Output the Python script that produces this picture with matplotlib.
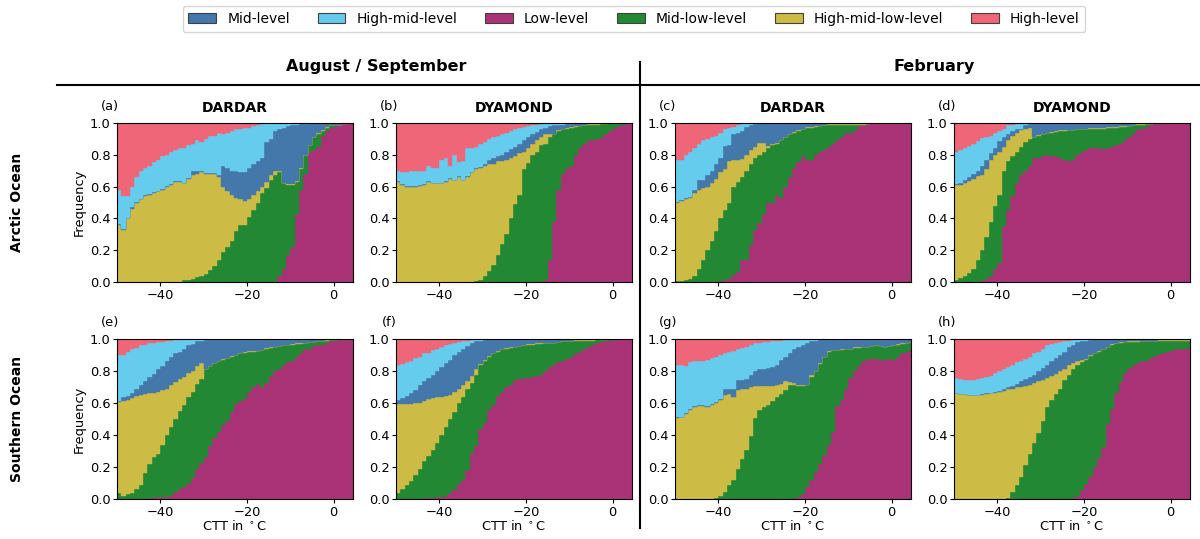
import numpy as np
import matplotlib
matplotlib.use("Agg")
import matplotlib.pyplot as plt
from matplotlib.patches import Patch
from matplotlib.lines import Line2D

# Cloud-top temperature bins (degC), 1 K wide
BIN_EDGES = np.arange(-50, 6)
N_BINS = len(BIN_EDGES) - 1

CLASSES = ["Low-level", "Mid-low-level", "High-mid-low-level",
           "Mid-level", "High-mid-level", "High-level"]
COLORS = {
    "Mid-level": "#4477AA",
    "High-mid-level": "#66CCEE",
    "Low-level": "#AA3377",
    "Mid-low-level": "#228833",
    "High-mid-low-level": "#CCBB44",
    "High-level": "#EE6677",
}
LEGEND_ORDER = ["Mid-level", "High-mid-level", "Low-level",
                "Mid-low-level", "High-mid-low-level", "High-level"]

# Cumulative frequency per CTT bin: upper edge of each stacked class
# (low, mid-low, high-mid-low, mid, high-mid); high-level fills up to 1.

# (a) Arctic, Aug/Sep, DARDAR
a_low = [0.0] * 37 + [0.04, 0.08, 0.17, 0.22, 0.43, 0.58, 0.68, 0.82, 0.83,
                      0.85, 0.92, 0.95, 0.97, 0.98, 0.99, 0.995, 1.0, 1.0]
a_midlow = [0.0] * 15 + [0.01, 0.015, 0.02, 0.03, 0.04, 0.05, 0.075, 0.10, 0.14, 0.19,
                         0.22, 0.26, 0.32, 0.36, 0.36, 0.41, 0.45, 0.50, 0.56, 0.59,
                         0.64, 0.67, 0.69, 0.62, 0.61, 0.61, 0.63, 0.71, 0.80, 0.86,
                         0.91, 0.93, 0.95, 0.97, 0.985, 0.99, 0.99, 0.995, 1.0, 1.0]
a_hml = [0.36, 0.33, 0.40, 0.46, 0.50, 0.52, 0.54, 0.55, 0.56, 0.57,
         0.58, 0.60, 0.61, 0.63, 0.63, 0.62, 0.65, 0.67, 0.68, 0.69,
         0.68, 0.68, 0.68, 0.66, 0.60, 0.57, 0.55, 0.53, 0.52, 0.51,
         0.52, 0.55, 0.57, 0.60, 0.63, 0.67, 0.70, 0.70, 0.625, 0.615,
         0.615, 0.635, 0.715, 0.80, 0.86, 0.91, 0.935, 0.955, 0.975, 0.99,
         0.99, 0.99, 0.997, 1.0, 1.0]
a_mid = [0.365, 0.335, 0.405, 0.47, 0.505, 0.525, 0.545, 0.555, 0.565, 0.575,
         0.585, 0.605, 0.615, 0.635, 0.635, 0.625, 0.655, 0.70, 0.70, 0.70,
         0.685, 0.685, 0.685, 0.67, 0.73, 0.72, 0.70, 0.70, 0.69, 0.69,
         0.72, 0.74, 0.76, 0.78, 0.88, 0.90, 0.95, 0.96, 0.97, 0.98,
         0.99, 0.99, 0.995, 0.995, 0.998, 1.0, 1.0, 1.0, 1.0, 1.0,
         1.0, 1.0, 1.0, 1.0, 1.0]
a_hm = [0.58, 0.54, 0.54, 0.60, 0.66, 0.70, 0.72, 0.73, 0.755, 0.77,
        0.79, 0.80, 0.82, 0.83, 0.84, 0.84, 0.86, 0.87, 0.89, 0.88,
        0.90, 0.92, 0.92, 0.94, 0.93, 0.94, 0.95, 0.96, 0.96, 0.97,
        0.97, 0.98, 0.99, 0.995] + [1.0] * 21

# (b) Arctic, Aug/Sep, DYAMOND
b_low = [0.0] * 34 + [0.015, 0.14, 0.38, 0.58, 0.68, 0.71, 0.73, 0.80, 0.84, 0.87,
                      0.89, 0.895, 0.90, 0.91, 0.93, 0.95, 0.97, 0.98, 0.99, 0.995, 1.0]
b_midlow = [0.0] * 18 + [0.005, 0.015, 0.04, 0.07, 0.11, 0.17, 0.24, 0.30, 0.40, 0.49,
                         0.55, 0.71, 0.75, 0.80, 0.82, 0.86, 0.87, 0.91, 0.93, 0.95,
                         0.96, 0.965, 0.97, 0.975, 0.98, 0.985, 0.99, 0.99, 0.99, 0.995,
                         0.995, 0.998, 1.0, 1.0, 1.0, 1.0, 1.0]
b_hml = [0.63, 0.61, 0.60, 0.60, 0.60, 0.605, 0.61, 0.63, 0.62, 0.62,
         0.62, 0.63, 0.65, 0.64, 0.66, 0.64, 0.66, 0.69, 0.71, 0.72,
         0.73, 0.74, 0.74, 0.76, 0.76, 0.77, 0.78, 0.79, 0.81, 0.82,
         0.84, 0.87, 0.89, 0.91, 0.93, 0.93, 0.933, 0.953, 0.963, 0.968,
         0.973, 0.978, 0.983, 0.988, 0.993, 0.993, 0.993, 0.997, 0.997, 0.999,
         1.0, 1.0, 1.0, 1.0, 1.0]
b_mid = [0.634, 0.614, 0.604, 0.604, 0.604, 0.609, 0.614, 0.634, 0.624, 0.624,
         0.624, 0.634, 0.654, 0.644, 0.664, 0.644, 0.664, 0.694, 0.714, 0.724,
         0.745, 0.77, 0.78, 0.79, 0.80, 0.82, 0.835, 0.85, 0.87, 0.89,
         0.91, 0.93, 0.945, 0.96, 0.97, 0.98, 0.985, 0.99, 0.99, 0.995,
         0.995, 0.997, 0.998, 0.999] + [1.0] * 11
b_hm = [0.70, 0.69, 0.69, 0.70, 0.70, 0.70, 0.70, 0.73, 0.72, 0.72,
        0.77, 0.78, 0.73, 0.80, 0.755, 0.76, 0.84, 0.84, 0.85, 0.87,
        0.88, 0.90, 0.91, 0.92, 0.93, 0.94, 0.95, 0.96, 0.97, 0.975,
        0.98, 0.985, 0.99, 0.995] + [1.0] * 21

# (c) Arctic, February, DARDAR
c_low = [0.0] * 10 + [0.005, 0.01, 0.02, 0.045, 0.06, 0.14, 0.14, 0.23, 0.33, 0.37,
                      0.43, 0.50, 0.50, 0.55, 0.53, 0.60, 0.66, 0.72, 0.755, 0.79,
                      0.77, 0.77, 0.80, 0.82, 0.83, 0.85, 0.87, 0.895, 0.91, 0.94,
                      0.94, 0.95, 0.98, 0.985, 0.995] + [1.0] * 10
c_midlow = [0.005, 0.005, 0.01, 0.02, 0.04, 0.08, 0.14, 0.20, 0.26, 0.32,
            0.40, 0.45, 0.50, 0.60, 0.63, 0.66, 0.70, 0.74, 0.78, 0.80,
            0.82, 0.84, 0.86, 0.87, 0.89, 0.91, 0.93, 0.94, 0.95, 0.96,
            0.97, 0.97, 0.975, 0.98, 0.985, 0.99, 0.99, 0.99, 0.99, 0.99,
            0.99, 0.99, 0.99, 0.99, 0.995] + [1.0] * 10
c_hml = [0.50, 0.51, 0.525, 0.53, 0.56, 0.58, 0.59, 0.60, 0.62, 0.65,
         0.69, 0.71, 0.76, 0.765, 0.765, 0.775, 0.80, 0.83, 0.85, 0.875,
         0.875, 0.855, 0.865, 0.875, 0.895, 0.915, 0.933, 0.943, 0.953, 0.963,
         0.973, 0.973, 0.978, 0.983, 0.988, 0.992, 0.992, 0.992, 0.992, 0.992,
         0.992, 0.992, 0.992, 0.992, 0.996] + [1.0] * 10
c_mid = [0.505, 0.515, 0.53, 0.535, 0.58, 0.64, 0.64, 0.67, 0.70, 0.745,
         0.78, 0.855, 0.86, 0.93, 0.935, 0.95, 0.975, 0.99, 0.995, 0.997,
         0.998] + [1.0] * 34
c_hm = [0.77, 0.77, 0.80, 0.82, 0.84, 0.865, 0.895, 0.90, 0.91, 0.92,
        0.94, 0.96, 0.97, 0.975, 0.985, 0.995] + [1.0] * 39

# (d) Arctic, February, DYAMOND
d_low = [0.0] * 5 + [0.003, 0.005, 0.02, 0.035, 0.08, 0.12, 0.35, 0.45, 0.54, 0.62,
                     0.67, 0.70, 0.73, 0.78, 0.78, 0.79, 0.80, 0.79, 0.79, 0.78,
                     0.77, 0.76, 0.77, 0.80, 0.82, 0.83, 0.84, 0.84, 0.84, 0.835,
                     0.84, 0.85, 0.86, 0.87, 0.89, 0.91, 0.94, 0.96, 0.965, 0.975,
                     0.985, 0.995] + [1.0] * 8
d_midlow = [0.015, 0.025, 0.04, 0.055, 0.08, 0.14, 0.20, 0.28, 0.38, 0.48,
            0.55, 0.70, 0.76, 0.79, 0.82, 0.85, 0.88, 0.90, 0.91, 0.92,
            0.93, 0.935, 0.94, 0.945, 0.95, 0.95, 0.955, 0.955, 0.96, 0.96,
            0.96, 0.965, 0.965, 0.965, 0.965, 0.97, 0.97, 0.97, 0.975, 0.975,
            0.98, 0.985, 0.99, 0.99, 0.995, 0.995] + [1.0] * 9
d_hml = [0.61, 0.61, 0.62, 0.635, 0.645, 0.665, 0.67, 0.71, 0.765, 0.80,
         0.82, 0.85, 0.895, 0.92, 0.94, 0.955, 0.96, 0.97, 0.913, 0.923,
         0.933, 0.938, 0.943, 0.948, 0.953, 0.953, 0.958, 0.958, 0.963, 0.963,
         0.963, 0.968, 0.968, 0.968, 0.968, 0.973, 0.973, 0.973, 0.978, 0.978,
         0.983, 0.988, 0.992, 0.992, 0.996, 0.996] + [1.0] * 9
d_mid = [0.615, 0.62, 0.64, 0.66, 0.68, 0.70, 0.73, 0.765, 0.81, 0.84,
         0.885, 0.91, 0.93, 0.95, 0.96, 0.965, 0.985, 0.995] + [1.0] * 37
d_hm = [0.815, 0.83, 0.84, 0.855, 0.87, 0.885, 0.905, 0.915, 0.92, 0.935,
        0.95, 0.965, 0.985, 0.99, 0.995] + [1.0] * 40

# (e) Southern Ocean, Aug/Sep, DARDAR
e_low = [0.0] * 7 + [0.005, 0.008, 0.01, 0.01, 0.012, 0.02, 0.045, 0.065, 0.075, 0.095,
                     0.13, 0.185, 0.225, 0.265, 0.33, 0.38, 0.42, 0.46, 0.49, 0.545,
                     0.595, 0.61, 0.625, 0.67, 0.70, 0.72, 0.70, 0.725, 0.77, 0.80,
                     0.81, 0.84, 0.855, 0.86, 0.89, 0.91, 0.935, 0.94, 0.955, 0.96,
                     0.965, 0.975, 0.985, 0.99, 0.995, 1.0, 0.995, 1.0]
e_midlow = [0.04, 0.02, 0.03, 0.04, 0.06, 0.09, 0.16, 0.22, 0.26, 0.28,
            0.34, 0.40, 0.45, 0.50, 0.55, 0.59, 0.64, 0.67, 0.72, 0.75,
            0.81, 0.83, 0.85, 0.86, 0.87, 0.88, 0.89, 0.90, 0.91, 0.915,
            0.92, 0.92, 0.925, 0.93, 0.94, 0.945, 0.95, 0.955, 0.96, 0.96,
            0.965, 0.97, 0.97, 0.975, 0.98, 0.98, 0.985, 0.985, 0.99, 0.995,
            0.995, 1.0, 1.0, 1.0, 1.0]
e_hml = [0.605, 0.61, 0.62, 0.63, 0.645, 0.65, 0.655, 0.66, 0.665, 0.67,
         0.68, 0.69, 0.71, 0.73, 0.75, 0.765, 0.785, 0.80, 0.83, 0.85,
         0.815, 0.833, 0.853, 0.863, 0.873, 0.883, 0.893, 0.903, 0.913, 0.918,
         0.923, 0.923, 0.928, 0.933, 0.943, 0.948, 0.953, 0.958, 0.963, 0.963,
         0.968, 0.973, 0.973, 0.978, 0.983, 0.983, 0.988, 0.988, 0.993, 0.997,
         0.997, 1.0, 1.0, 1.0, 1.0]
e_mid = [0.612, 0.64, 0.645, 0.66, 0.69, 0.715, 0.74, 0.765, 0.78, 0.81,
         0.83, 0.865, 0.885, 0.91, 0.92, 0.935, 0.96, 0.97, 0.985, 0.99,
         0.995] + [1.0] * 34
e_hm = [0.90, 0.90, 0.92, 0.935, 0.945, 0.96, 0.965, 0.975, 0.978, 0.98,
        0.982, 0.988, 0.99, 0.994, 0.995, 0.997] + [1.0] * 39

# (f) Southern Ocean, Aug/Sep, DYAMOND
f_low = [0.0] * 6 + [0.005, 0.008, 0.008, 0.01, 0.015, 0.02, 0.04, 0.055, 0.095, 0.12,
                     0.18, 0.285, 0.33, 0.435, 0.475, 0.555, 0.59, 0.645, 0.67, 0.70,
                     0.715, 0.745, 0.75, 0.755, 0.755, 0.765, 0.77, 0.775, 0.80, 0.825,
                     0.84, 0.855, 0.865, 0.875, 0.89, 0.91, 0.92, 0.935, 0.95, 0.965,
                     0.975, 0.98, 0.985, 0.99, 0.995, 1.0, 1.0, 1.0, 1.0]
f_midlow = [0.038, 0.065, 0.09, 0.115, 0.15, 0.19, 0.24, 0.27, 0.305, 0.35,
            0.40, 0.45, 0.50, 0.545, 0.60, 0.635, 0.685, 0.725, 0.775, 0.84,
            0.865, 0.89, 0.91, 0.92, 0.935, 0.94, 0.945, 0.95, 0.955, 0.96,
            0.965, 0.965, 0.97, 0.97, 0.975, 0.975, 0.975, 0.98, 0.985, 0.985,
            0.985, 0.99, 0.99, 0.99, 0.99, 0.99, 0.995, 0.995, 0.995, 0.998,
            1.0, 1.0, 1.0, 1.0, 1.0]
f_hml = [0.595, 0.595, 0.595, 0.595, 0.60, 0.60, 0.61, 0.625, 0.63, 0.635,
         0.64, 0.645, 0.65, 0.67, 0.685, 0.715, 0.74, 0.77, 0.81, 0.843,
         0.868, 0.893, 0.913, 0.923, 0.938, 0.943, 0.948, 0.953, 0.958, 0.963,
         0.968, 0.968, 0.973, 0.973, 0.978, 0.978, 0.978, 0.983, 0.988, 0.988,
         0.988, 0.993, 0.993, 0.993, 0.993, 0.993, 0.997, 0.997, 0.997, 1.0,
         1.0, 1.0, 1.0, 1.0, 1.0]
f_mid = [0.62, 0.63, 0.645, 0.66, 0.68, 0.715, 0.735, 0.755, 0.775, 0.80,
         0.825, 0.85, 0.87, 0.90, 0.92, 0.935, 0.955, 0.975, 0.985, 0.99,
         0.995] + [1.0] * 34
f_hm = [0.84, 0.845, 0.855, 0.865, 0.88, 0.89, 0.91, 0.915, 0.93, 0.935,
        0.95, 0.96, 0.967, 0.975, 0.983, 0.985, 0.99, 0.993] + [1.0] * 37

# (g) Southern Ocean, February, DARDAR
g_low = [0.0] * 27 + [0.005, 0.015, 0.03, 0.075, 0.12, 0.17, 0.22, 0.275, 0.335, 0.42,
                      0.58, 0.62, 0.685, 0.755, 0.80, 0.83, 0.86, 0.875, 0.875, 0.875,
                      0.87, 0.87, 0.875, 0.87, 0.89, 0.91, 0.92, 0.925]
g_midlow = [0.0] * 9 + [0.008, 0.02, 0.045, 0.085, 0.12, 0.185, 0.25, 0.305, 0.395, 0.505,
                        0.555, 0.575, 0.59, 0.61, 0.635, 0.655, 0.68, 0.715, 0.715, 0.705,
                        0.705, 0.71, 0.765, 0.80, 0.845, 0.885, 0.92, 0.93, 0.93, 0.932,
                        0.935, 0.935, 0.945, 0.945, 0.95, 0.95, 0.955, 0.96, 0.955, 0.95,
                        0.955, 0.96, 0.965, 0.97, 0.975, 0.98]
g_hml = [0.505, 0.51, 0.53, 0.555, 0.575, 0.58, 0.58, 0.575, 0.59, 0.60,
         0.62, 0.65, 0.655, 0.635, 0.68, 0.685, 0.685, 0.70, 0.705, 0.705,
         0.705, 0.705, 0.705, 0.71, 0.72, 0.735, 0.73, 0.725, 0.715, 0.712,
         0.715, 0.775, 0.803, 0.848, 0.888, 0.923, 0.933, 0.933, 0.935, 0.938,
         0.938, 0.948, 0.948, 0.953, 0.953, 0.958, 0.963, 0.958, 0.953, 0.958,
         0.963, 0.968, 0.973, 0.978, 0.983]
g_mid = [0.51, 0.515, 0.535, 0.56, 0.58, 0.585, 0.585, 0.58, 0.595, 0.605,
         0.625, 0.69, 0.69, 0.69, 0.745, 0.745, 0.75, 0.775, 0.80, 0.81,
         0.815, 0.82, 0.825, 0.84, 0.87, 0.89, 0.915, 0.935, 0.95, 0.96,
         0.975, 0.985, 0.99] + [1.0] * 22
g_hm = [0.84, 0.835, 0.83, 0.855, 0.86, 0.86, 0.865, 0.87, 0.88, 0.89,
        0.90, 0.915, 0.92, 0.925, 0.935, 0.945, 0.95, 0.96, 0.975, 0.978,
        0.98, 0.982, 0.985, 0.987, 0.99, 0.992, 0.994, 0.995, 0.996, 0.997] + [1.0] * 25

# (h) Southern Ocean, February, DYAMOND
h_low = [0.0] * 27 + [0.008, 0.02, 0.055, 0.095, 0.14, 0.20, 0.255, 0.325, 0.47, 0.565,
                      0.66, 0.73, 0.79, 0.82, 0.84, 0.85, 0.86, 0.865, 0.88, 0.895,
                      0.905, 0.915, 0.92, 0.93, 0.935, 0.94, 0.94, 0.945]
h_midlow = [0.0] * 12 + [0.008, 0.045, 0.09, 0.14, 0.21, 0.28, 0.35, 0.41, 0.485, 0.575,
                         0.62, 0.655, 0.69, 0.745, 0.775, 0.81, 0.84, 0.855, 0.87, 0.895,
                         0.91, 0.92, 0.935, 0.95, 0.965, 0.975, 0.978, 0.98, 0.982, 0.982,
                         0.983, 0.985, 0.985, 0.986, 0.987, 0.988, 0.99, 0.99, 0.99, 0.99,
                         0.99, 0.99, 0.99]
h_hml = [0.66, 0.655, 0.655, 0.65, 0.65, 0.65, 0.652, 0.657, 0.66, 0.665,
         0.67, 0.678, 0.685, 0.69, 0.70, 0.703, 0.707, 0.713, 0.724, 0.735,
         0.745, 0.755, 0.77, 0.78, 0.80, 0.815, 0.835, 0.85, 0.865, 0.87,
         0.875, 0.90, 0.913, 0.923, 0.938, 0.953, 0.968, 0.978, 0.981, 0.983,
         0.985, 0.985, 0.986, 0.988, 0.988, 0.989, 0.99, 0.991, 0.993, 0.993,
         0.993, 0.993, 0.993, 0.993, 0.993]
h_mid = [0.663, 0.658, 0.658, 0.653, 0.653, 0.653, 0.655, 0.66, 0.663, 0.668,
         0.672, 0.69, 0.70, 0.707, 0.72, 0.735, 0.75, 0.765, 0.775, 0.80,
         0.82, 0.84, 0.86, 0.88, 0.90, 0.92, 0.95, 0.965, 0.98, 0.985,
         0.99, 0.995] + [1.0] * 23
h_hm = [0.755, 0.75, 0.745, 0.745, 0.745, 0.75, 0.755, 0.765, 0.77, 0.785,
        0.80, 0.81, 0.825, 0.84, 0.855, 0.86, 0.875, 0.89, 0.91, 0.92,
        0.935, 0.96, 0.97, 0.975, 0.98, 0.987, 0.99, 0.995] + [1.0] * 27

PANELS = [
    ("(a)", "DARDAR", [a_low, a_midlow, a_hml, a_mid, a_hm]),
    ("(b)", "DYAMOND", [b_low, b_midlow, b_hml, b_mid, b_hm]),
    ("(c)", "DARDAR", [c_low, c_midlow, c_hml, c_mid, c_hm]),
    ("(d)", "DYAMOND", [d_low, d_midlow, d_hml, d_mid, d_hm]),
    ("(e)", "", [e_low, e_midlow, e_hml, e_mid, e_hm]),
    ("(f)", "", [f_low, f_midlow, f_hml, f_mid, f_hm]),
    ("(g)", "", [g_low, g_midlow, g_hml, g_mid, g_hm]),
    ("(h)", "", [h_low, h_midlow, h_hml, h_mid, h_hm]),
]

for tag, _, tops in PANELS:
    for t in tops:
        if len(t) != N_BINS:
            raise ValueError(f"{tag}: expected {N_BINS} bins, got {len(t)}")

W, H = 1200, 539
fig = plt.figure(figsize=(W / 100, H / 100), dpi=100)

lefts = [117, 396, 675, 954]
ax_w = 236
rows = [(123, 282), (339, 499)]
FS = 9.4

for i, (tag, title, tops) in enumerate(PANELS):
    r, c = divmod(i, 4)
    top_px, bot_px = rows[r]
    ax = fig.add_axes([lefts[c] / W, 1 - bot_px / H, ax_w / W, (bot_px - top_px) / H])
    lower = np.zeros(N_BINS)
    for cls, upper in zip(CLASSES, tops + [np.ones(N_BINS)]):
        upper = np.asarray(upper, dtype=float)
        ax.stairs(upper, BIN_EDGES, baseline=lower, fill=True,
                  facecolor=COLORS[cls], edgecolor=COLORS[cls], linewidth=0.3)
        lower = upper
    ax.set_xlim(-50, 4.5)
    ax.set_ylim(0, 1)
    ax.set_xticks([-40, -20, 0])
    ax.set_yticks(np.arange(0, 1.01, 0.2))
    ax.tick_params(labelsize=FS, length=3, pad=1.8)
    if title:
        ax.set_title(title, fontweight="bold", fontsize=10, pad=8)
    ax.text(-0.03, 1.105, tag, transform=ax.transAxes, ha="center", va="center", fontsize=FS)
    if c == 0:
        ax.set_ylabel("Frequency", fontsize=FS, labelpad=2.5)
    if r == 1:
        ax.set_xlabel(r"CTT in $^\circ$C", fontsize=FS, labelpad=0.5)
    ax.set_axisbelow(False)

# Row and column headers
fig.text(17 / W, 1 - 202 / H, "Arctic Ocean", rotation=90, ha="center", va="center",
         fontsize=10, fontweight="bold")
fig.text(17 / W, 1 - 419 / H, "Southern Ocean", rotation=90, ha="center", va="center",
         fontsize=10, fontweight="bold")
fig.text(376 / W, 1 - 66 / H, "August / September", ha="center", va="center",
         fontsize=11.5, fontweight="bold")
fig.text(934 / W, 1 - 66 / H, "February", ha="center", va="center",
         fontsize=11.5, fontweight="bold")

fig.add_artist(Line2D([57 / W, 1.0], [1 - 85 / H, 1 - 85 / H], color="black",
                      linewidth=1.5, transform=fig.transFigure))
fig.add_artist(Line2D([640 / W, 640 / W], [1 - 62 / H, 1 - 528 / H], color="black",
                      linewidth=1.5, transform=fig.transFigure))

handles = [Patch(facecolor=COLORS[k], edgecolor="0.25", linewidth=0.8, label=k)
           for k in LEGEND_ORDER]
fig.legend(handles=handles, loc="center", bbox_to_anchor=(634 / W, 1 - 19 / H),
           ncol=6, fontsize=10, frameon=True)

fig.savefig("out.png", dpi=100)
